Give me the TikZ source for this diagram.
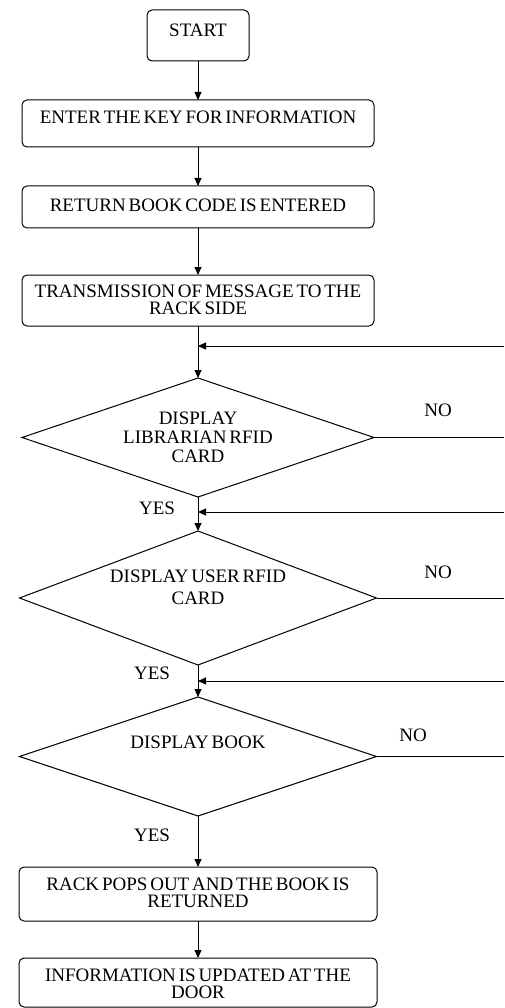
\documentclass[tikz,border=0pt]{standalone}
\usepackage{fontspec}
\setmainfont[WordSpace=0.6]{Liberation Serif}
\usetikzlibrary{shapes.geometric,arrows.meta}
\begin{document}
\begin{tikzpicture}[x=1pt,y=-1pt,
  every node/.style={font=\fontsize{19}{17}\selectfont, inner sep=0pt, outer sep=0pt, text=black},
  box/.style={draw=black, rounded corners=5pt, line width=1pt},
  dec/.style={draw=black, diamond, aspect=1, line width=1pt},
  txt/.style={align=center},
  arr/.style={draw=black, line width=1pt, -{Triangle[length=8pt,width=7pt]}},
  ln/.style={draw=black, line width=1pt}]
\useasboundingbox (0,0) rectangle (504,1008);

\node[box, minimum width=102, minimum height=51, label={[txt,yshift=5pt]center:START}] (start) at (198,35.5) {};
\node[box, minimum width=352, minimum height=47, label={[txt,yshift=6.5pt]center:ENTER THE KEY FOR INFORMATION}] (enter) at (198,123.5) {};
\node[box, minimum width=352, minimum height=42, label={[txt,yshift=2pt]center:RETURN BOOK CODE IS ENTERED}] (ret) at (198,207) {};
\node[box, minimum width=352, minimum height=51, label={[txt,yshift=1pt]center:TRANSMISSION OF MESSAGE TO THE\\RACK SIDE}] (trans) at (198,300.5) {};
\node[dec, minimum width=352, minimum height=119, label={[txt,font=\fontsize{19}{19}\selectfont]center:DISPLAY\\LIBRARIAN RFID\\CARD}] (d1) at (198,437.5) {};
\node[dec, minimum width=357, minimum height=134, label={[txt,yshift=11pt,font=\fontsize{19}{22}\selectfont]center:DISPLAY USER RFID\\CARD}] (d2) at (198,598) {};
\node[dec, minimum width=357, minimum height=119, label={[txt,yshift=14.5pt]center:DISPLAY BOOK}] (d3) at (198,756.5) {};
\node[box, minimum width=358, minimum height=54, label={[txt,yshift=1.5pt]center:RACK POPS OUT AND THE BOOK IS\\RETURNED}] (rack) at (198,894) {};
\node[box, minimum width=358, minimum height=49, label={[txt,yshift=-1pt]center:INFORMATION IS UPDATED AT THE\\DOOR}] (info) at (198,982.5) {};

\coordinate (r1) at (504,346);
\coordinate (r2) at (504,512);
\coordinate (r3) at (504,681);
\coordinate (n1) at (504,437.5);
\coordinate (n2) at (504,598);
\coordinate (n3) at (504,756.5);

\draw[arr] (start) -- (enter);
\draw[arr] (enter) -- (ret);
\draw[arr] (ret) -- (trans);
\draw[arr] (trans) -- (d1);
\draw[arr] (d1) -- (d2);
\draw[arr] (d2) -- (d3);
\draw[arr] (d3) -- (rack);
\draw[arr] (rack) -- (info);

\draw[ln] (d1.east) -- (n1);
\draw[ln] (d2.east) -- (n2);
\draw[ln] (d3.east) -- (n3);
\draw[arr] (r1) -- (r1 -| d1.north);
\draw[arr] (r2) -- (r2 -| d2.north);
\draw[arr] (r3) -- (r3 -| d3.north);

\node (no1) at (438,410) {NO};
\node (no2) at (438,572) {NO};
\node (no3) at (413,735) {NO};
\node (yes1) at (157,508) {YES};
\node (yes2) at (152,673) {YES};
\node (yes3) at (152,835) {YES};
\end{tikzpicture}
\end{document}
